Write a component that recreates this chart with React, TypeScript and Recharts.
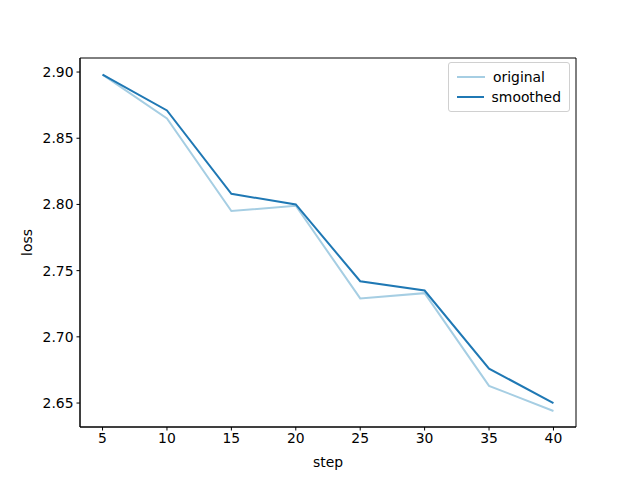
import React from "react";
import { LineChart, Line, XAxis, YAxis, ReferenceArea } from "recharts";

const steps = [5, 10, 15, 20, 25, 30, 35, 40];
const originalLoss = [2.898, 2.865, 2.795, 2.799, 2.729, 2.733, 2.663, 2.644];
const smoothedLoss = [2.898, 2.871, 2.808, 2.8, 2.742, 2.735, 2.676, 2.65];
const xTicks = [5, 10, 15, 20, 25, 30, 35, 40];
const yTicks = [2.65, 2.7, 2.75, 2.8, 2.85, 2.9];

const data = steps.map((s, i) => ({ step: s, original: originalLoss[i], smoothed: smoothedLoss[i] }));

const X_DOMAIN: [number, number] = [3.25, 41.75];
const Y_DOMAIN: [number, number] = [2.6319, 2.9106];
const FONT = "DejaVu Sans, sans-serif";
const ORIGINAL_COLOR = "#a6cee3";
const SMOOTHED_COLOR = "#1f78b4";

const legendItems = [
  { name: "original", color: ORIGINAL_COLOR },
  { name: "smoothed", color: SMOOTHED_COLOR },
];

const LegendBox = () => (
  <div
    style={{
      position: "absolute",
      left: 448,
      top: 62,
      boxSizing: "border-box",
      width: 122,
      border: "1px solid #d0d0d0",
      borderRadius: 3,
      background: "rgba(255,255,255,0.8)",
      padding: "4px 8px",
      fontFamily: FONT,
      fontSize: 13.9,
      color: "#000",
    }}
  >
    {legendItems.map((item) => (
      <div key={item.name} style={{ display: "flex", alignItems: "center", height: 20 }}>
        <div style={{ width: 28, height: 2, background: item.color, marginRight: 8 }} />
        <span>{item.name}</span>
      </div>
    ))}
  </div>
);

export default function App() {
  return (
    <div style={{ position: "absolute", left: 0, top: 0, width: 640, height: 480, background: "#fff" }}>
      <LineChart width={640} height={480} data={data} margin={{ top: 58, right: 64, left: 0, bottom: 0 }}>
        <XAxis
          dataKey="step"
          type="number"
          domain={X_DOMAIN}
          ticks={xTicks}
          height={53}
          stroke="#000"
          tickSize={3.5}
          tickMargin={3}
          tick={{ fill: "#000", fontSize: 13.9, fontFamily: FONT }}
          label={{ value: "step", position: "insideBottom", offset: 13, fill: "#000", fontSize: 13.9, fontFamily: FONT }}
        />
        <YAxis
          type="number"
          domain={Y_DOMAIN}
          ticks={yTicks}
          width={80}
          stroke="#000"
          tickSize={3.5}
          tickMargin={3}
          tickFormatter={(v: number) => v.toFixed(2)}
          tick={{ fill: "#000", fontSize: 13.9, fontFamily: FONT }}
          label={{ value: "loss", angle: -90, position: "insideLeft", offset: 27, fill: "#000", fontSize: 13.9, fontFamily: FONT, style: { textAnchor: "middle" } }}
        />
        <ReferenceArea
          x1={X_DOMAIN[0]}
          x2={X_DOMAIN[1]}
          y1={Y_DOMAIN[0]}
          y2={Y_DOMAIN[1]}
          fill="none"
          stroke="#000"
          strokeWidth={1}
          ifOverflow="extendDomain"
        />
        <Line dataKey="original" stroke={ORIGINAL_COLOR} strokeWidth={2} dot={false} isAnimationActive={false} />
        <Line dataKey="smoothed" stroke={SMOOTHED_COLOR} strokeWidth={2} dot={false} isAnimationActive={false} />
      </LineChart>
      <LegendBox />
    </div>
  );
}
